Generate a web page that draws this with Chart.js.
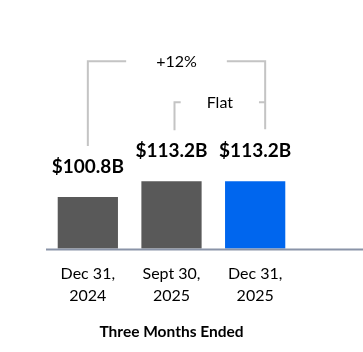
<!DOCTYPE html>
<html>
<head>
<meta charset="utf-8">
<script src="https://cdn.jsdelivr.net/npm/chart.js@4"></script>
<style>
  body { margin: 0; background: #fff; }
</style>
</head>
<body>
<canvas id="myChart" width="363" height="352"></canvas>
<script>
// quarters shown on the x axis
var periods = [["Dec 31,", "2024"], ["Sept 30,", "2025"], ["Dec 31,", "2025"]];
// revenue in $B
var revenue = [100.8, 113.2, 113.2];
var valueLabels = ["$100.8B", "$113.2B", "$113.2B"];
var barColors = ["#595959", "#595959", "#0066ee"];
var changeLabels = ["+12%", "Flat"];
var axisTitle = "Three Months Ended";

var FONT = "Lato, 'Liberation Sans', sans-serif";

// value labels above the bars, the baseline and the two change brackets
var annotations = {
  id: "annotations",
  afterDatasetsDraw: function(chart) {
    var ctx = chart.ctx;
    var bars = chart.getDatasetMeta(0).data;
    var area = chart.chartArea;

    ctx.save();

    // baseline runs on to the right edge
    ctx.strokeStyle = "#8a94a8";
    ctx.lineWidth = 2;
    ctx.beginPath();
    ctx.moveTo(area.left, area.bottom + 1);
    ctx.lineTo(chart.width, area.bottom + 1);
    ctx.stroke();

    // value labels
    ctx.fillStyle = "#000";
    ctx.font = "bold 19px " + FONT;
    ctx.textAlign = "center";
    ctx.textBaseline = "alphabetic";
    bars.forEach(function(bar, i) {
      ctx.fillText(valueLabels[i], bar.x, bar.y - 24);
    });

    // brackets
    var top = Math.min(bars[1].y, bars[2].y);
    var y1 = top - 120;
    var y2 = top - 79;
    ctx.strokeStyle = "#c4c4c4";
    ctx.lineWidth = 2;
    ctx.font = "16px " + FONT;
    ctx.textBaseline = "middle";

    function bracket(xa, ya, xb, yb, y, text, gap) {
      var mid = (xa + xb) / 2;
      var w = ctx.measureText(text).width / 2 + gap;
      ctx.beginPath();
      ctx.moveTo(xa, ya);
      ctx.lineTo(xa, y);
      ctx.lineTo(mid - w, y);
      ctx.moveTo(mid + w, y);
      ctx.lineTo(xb, y);
      ctx.lineTo(xb, yb);
      ctx.stroke();
      ctx.fillText(text, mid, y);
    }

    bracket(bars[0].x, bars[0].y - 51, bars[2].x + 10, bars[2].y - 52, y1, changeLabels[0], 30);
    bracket(bars[1].x + 3, bars[1].y - 51, bars[2].x + 10, y2, y2, changeLabels[1], 26);

    ctx.restore();
  }
};

window.onload = function() {
  var ctx = document.getElementById("myChart").getContext("2d");
  var chart = new Chart(ctx, {
    type: "bar",
    data: {
      labels: periods,
      datasets: [
        {
          data: revenue,
          backgroundColor: barColors,
          barPercentage: 0.72,
          categoryPercentage: 1.0
        }
      ]
    },
    options: {
      responsive: false,
      devicePixelRatio: 1,
      animation: false,
      layout: {
        padding: { left: 46, right: 66, top: 72, bottom: 11 }
      },
      plugins: {
        legend: { display: false },
        tooltip: { enabled: false }
      },
      scales: {
        x: {
          grid: { display: false, drawTicks: false },
          border: { display: false },
          ticks: {
            color: "#000",
            padding: 14,
            font: { family: FONT, size: 16, lineHeight: 1.375 }
          },
          title: {
            display: true,
            text: axisTitle,
            color: "#000",
            font: { family: FONT, size: 15.5, weight: "bold", lineHeight: 1.2 },
            padding: { top: 2, bottom: 0 }
          }
        },
        y: {
          display: false,
          min: 60,
          max: 200
        }
      }
    },
    plugins: [annotations]
  });
};
</script>
</body>
</html>
